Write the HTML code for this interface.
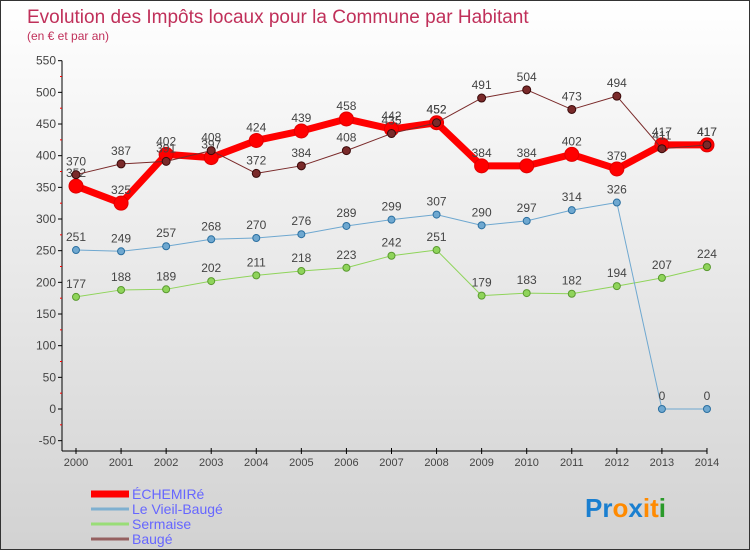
<!DOCTYPE html>
<html><head><meta charset="utf-8"><style>
body{margin:0}
#c{width:750px;height:550px;position:relative;overflow:hidden;background:linear-gradient(#ffffff,#d2d2d2);border:1px solid #333;box-sizing:border-box;font-family:"Liberation Sans",sans-serif}
</style></head><body>
<div id="c">
<svg id="s" width="750" height="550" xmlns="http://www.w3.org/2000/svg" style="position:absolute;left:0;top:0">
<text x="26" y="22" font-size="19" fill="#c0305a">Evolution des Impôts locaux pour la Commune par Habitant</text>
<text x="26" y="39" font-size="12" fill="#c0305a">(en € et par an)</text>
</svg>
</div>
<script>
const years=["2000","2001","2002","2003","2004","2005","2006","2007","2008","2009","2010","2011","2012","2013","2014"];
const yTicks=[-50,0,50,100,150,200,250,300,350,400,450,500,550];
const echemire=[352,325,402,397,424,439,458,442,452,384,384,402,379,417,417];
const vieil=[251,249,257,268,270,276,289,299,307,290,297,314,326,0,0];
const sermaise=[177,188,189,202,211,218,223,242,251,179,183,182,194,207,224];
const bauge=[370,387,391,408,372,384,408,435,452,491,504,473,494,411,417];
const NS="http://www.w3.org/2000/svg";
const s=document.getElementById('s');
const X=i=>75+i*45.07;
const Y=v=>408-v*0.6333;
function el(t,a,p){const e=document.createElementNS(NS,t);for(const k in a)e.setAttribute(k,a[k]);(p||s).appendChild(e);return e;}
// axes
const ax=el('g',{});


el('line',{x1:61,y1:Y(550),x2:61,y2:450,stroke:'#000','stroke-width':1},ax);
el('line',{x1:61,y1:450,x2:X(14),y2:450,stroke:'#000','stroke-width':1},ax);
yTicks.forEach((v,i)=>{
  el('line',{x1:57,y1:Y(v),x2:61,y2:Y(v),stroke:'#000'},ax);
  if(i<yTicks.length-1)el('line',{x1:59,y1:Y(v+25),x2:61,y2:Y(v+25),stroke:'#f00'},ax);
  const t=el('text',{x:55,y:Y(v)+4,'font-size':12,'text-anchor':'end',fill:'#444'},ax);
  t.textContent=v;
  
  
});
years.forEach((y,i)=>{
  el('line',{x1:X(i),y1:447,x2:X(i),y2:453,stroke:'#000'},ax);
  const t=el('text',{x:X(i),y:465,'font-size':11,'text-anchor':'middle',fill:'#444'},ax);
  t.textContent=y;
  
  
});
function series(name,data,color,w,r,stroke){
  const g=el('g',{});
  
  
  el('polyline',{points:data.map((v,i)=>X(i)+','+Y(v)).join(' '),fill:'none',stroke:color,'stroke-width':w,'stroke-linejoin':'round'},g);
  data.forEach((v,i)=>{
    const c=el('circle',{cx:X(i),cy:Y(v),r:r,fill:color,stroke:stroke,'stroke-width':1},g);
    
    
    const t=el('text',{x:X(i),y:Y(v)-9,'font-size':12,'text-anchor':'middle',fill:'#444'},g);
    t.textContent=v;
    
    
  });
}
series('series-sermaise',sermaise,'#8fd45a',1,3.5,'#5a9a30');
series('series-le-vieil-bauge',vieil,'#6fa8d0',1,3.5,'#2a6fa0');
series('series-echemire',echemire,'#ff0000',7,7,'#e00000');
series('series-bauge',bauge,'#7a2a2a',1,4,'#3a0a0a');
// legend
const lg=[['ÉCHEMIRé','#ff0000',7],['Le Vieil-Baugé','#7fb0d0',3],['Sermaise','#99dd77',3],['Baugé','#956060',3]];
lg.forEach((l,i)=>{
  const g=el('g',{});
  
  
  const y=493+i*15;
  el('line',{x1:90,y1:y,x2:128,y2:y,stroke:l[1],'stroke-width':l[2]},g);
  const t=el('text',{x:131,y:y+5,'font-size':14,fill:'#6666ff'},g);
  t.textContent=l[0];
});
const lo=el('text',{x:584,y:516,'font-size':26,'font-weight':'bold'});


[['P','#1a7fd0'],['r','#1a7fd0'],['o','#ff8a00'],['x','#1a7fd0'],['i','#ff8a00'],['t','#ff8a00'],['i','#2a9a2a']].forEach(p=>{const ts=el('tspan',{fill:p[1]},lo);ts.textContent=p[0];});
</script>
</body></html>
